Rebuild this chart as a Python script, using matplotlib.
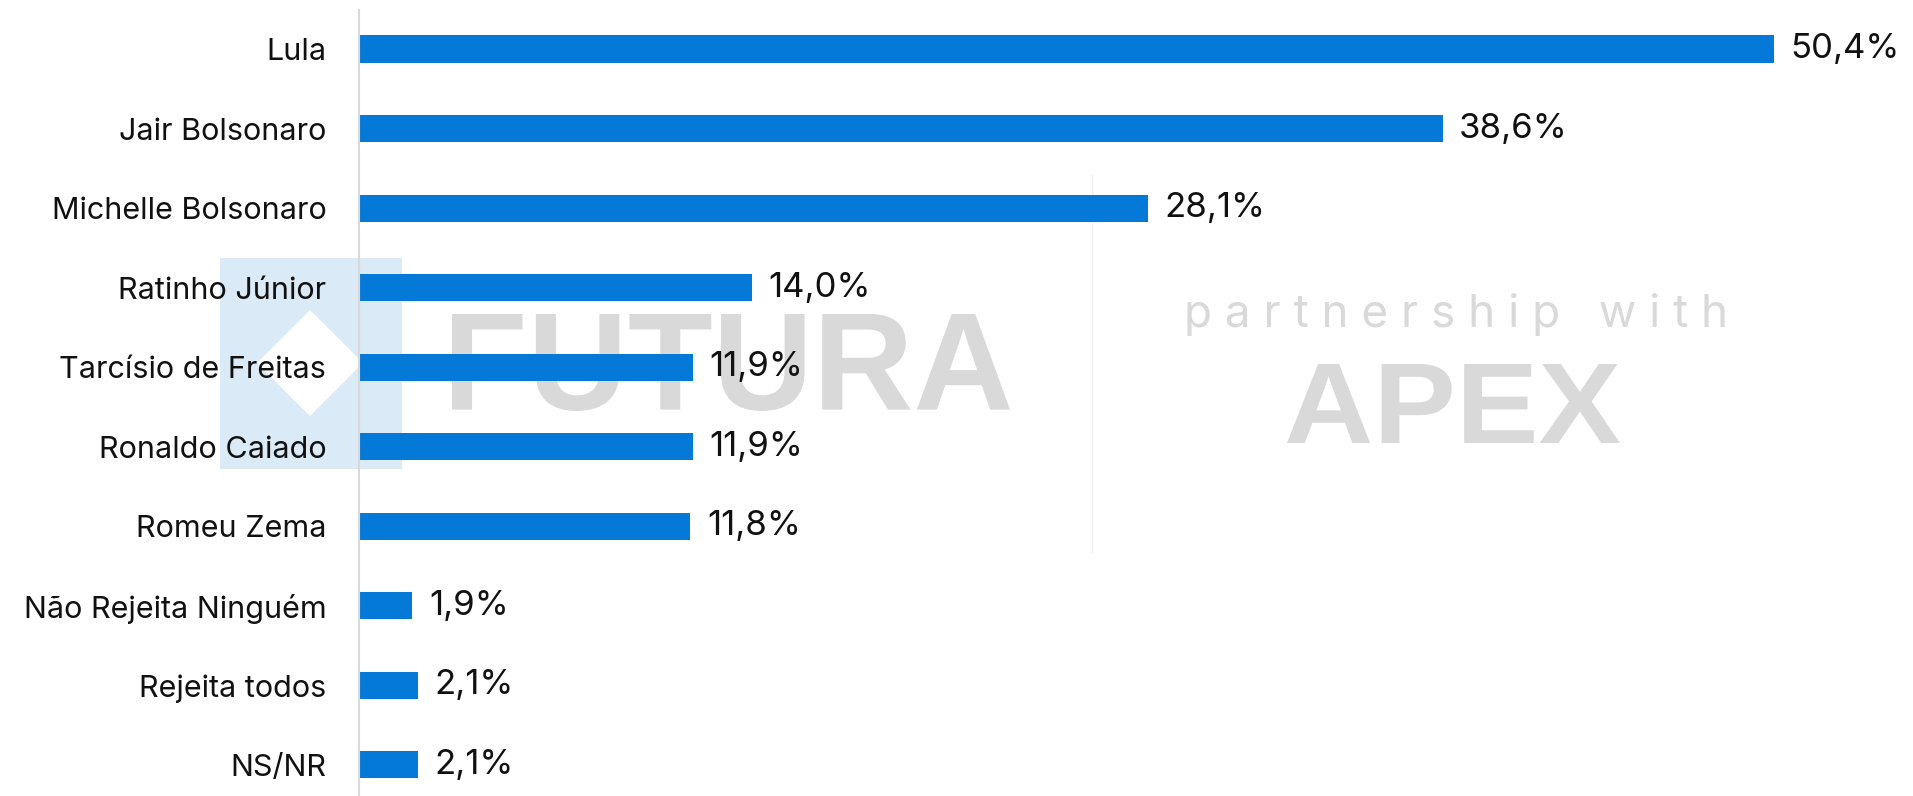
import matplotlib
matplotlib.use("Agg")
import matplotlib.pyplot as plt
from matplotlib.patches import Rectangle, Polygon, PathPatch
from matplotlib.lines import Line2D
from matplotlib.textpath import TextPath
from matplotlib.font_manager import FontProperties
from matplotlib.transforms import Affine2D

names = ["Lula", "Jair Bolsonaro", "Michelle Bolsonaro", "Ratinho Júnior",
         "Tarcísio de Freitas", "Ronaldo Caiado", "Romeu Zema",
         "Não Rejeita Ninguém", "Rejeita todos", "NS/NR"]
values = [50.4, 38.6, 28.1, 14.0, 11.9, 11.9, 11.8, 1.9, 2.1, 2.1]

W, H = 1913, 796
fig = plt.figure(figsize=(W / 100, H / 100), dpi=100)
fig.patch.set_facecolor("white")


def fx(px):
    return px / W


def fy(py):
    return 1 - py / H


def boxed_word(word, left, top, right, bottom):
    # logo word squeezed into a pixel box
    tp = TextPath((0, 0), word, size=100,
                  prop=FontProperties(family="Liberation Sans", weight="bold"))
    b = tp.get_extents()
    tr = (Affine2D().translate(-b.x0, -b.y0)
          .scale((right - left) / b.width, (bottom - top) / b.height)
          .translate(left, H - bottom).scale(1 / W, 1 / H) + fig.transFigure)
    fig.patches.append(PathPatch(tp, transform=tr, facecolor="#D9D9D9",
                                 edgecolor="none", zorder=-2))


# watermark, behind the axes
fig.patches.append(Rectangle((fx(220), fy(469)), fx(402) - fx(220), fy(258) - fy(469),
                             transform=fig.transFigure, facecolor="#DAEAF6",
                             edgecolor="none", zorder=-3))
fig.patches.append(Polygon([(fx(257), fy(363)), (fx(310), fy(310)),
                            (fx(363), fy(363)), (fx(310), fy(416))],
                           closed=True, transform=fig.transFigure,
                           facecolor="white", edgecolor="none", zorder=-2))
boxed_word("FUTURA", 452, 314, 1010, 411)
boxed_word("APEX", 1287, 364, 1620, 443)
fig.text(fx(1184), fy(327), " ".join("partnership") + "   " + " ".join("with"),
         fontsize=33, family="Inter", color="#D9D9D9", ha="left", va="baseline", zorder=-2)
fig.lines.append(Line2D([fx(1092), fx(1092)], [fy(175), fy(552)],
                        transform=fig.transFigure, color="#EEEEEE", lw=1, zorder=-2))

ax = fig.add_axes([fx(359), 0, fx(W) - fx(359), fy(10)])
ax.patch.set_alpha(0)

y = list(range(len(names)))
ax.barh(y, values, height=0.34, color="#0479D7")

for yi, v in zip(y, values):
    ax.annotate("{:.1f}%".format(v).replace(".", ","), (v, yi),
                xytext=(12, 0), textcoords="offset points",
                ha="left", va="center", fontsize=25, family="Inter", color="#111111")

ax.set_xlim(0, (W - 359) / 28.07)
ax.set_ylim(9.39, -0.49)
ax.set_yticks(y)
ax.set_yticklabels(names, fontsize=22, family="Inter", color="#111111")
ax.tick_params(axis="y", length=0, pad=23.5)
ax.set_xticks([])
for s in ["top", "right", "bottom"]:
    ax.spines[s].set_visible(False)
ax.spines["left"].set_color("#D9D9D9")
ax.spines["left"].set_linewidth(1.5)

plt.savefig("out.png", dpi=100)
